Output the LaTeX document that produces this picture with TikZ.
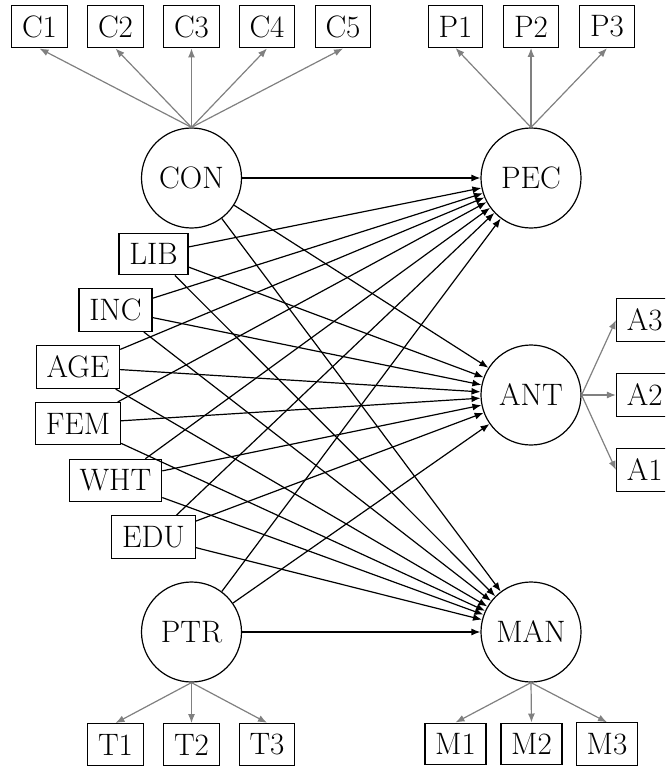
\documentclass[tikz,border=0pt]{standalone}
\usepackage{fontspec}
\usetikzlibrary{arrows.meta}
\tikzset{
  every node/.style={font=\fontsize{31}{36}\selectfont},
  obs/.style={draw, rectangle, line width=1.2pt, inner sep=10.3pt},
  lat/.style={draw, circle, line width=1.2pt, minimum size=100pt, inner sep=0pt},
  path/.style={line width=1.2pt, -{Latex[length=9pt,width=7pt]}},
  meas/.style={line width=1.2pt, gray, -{Latex[length=9pt,width=7pt]}}
}
\begin{document}
\begin{tikzpicture}[x=1pt,y=-1pt]
\useasboundingbox (0,0) rectangle (665,768);
\clip (0,0) rectangle (665,768);
% latent variables
\node[lat] (CON) at (191.5,178) {CON};
\node[lat] (PEC) at (531,178) {PEC};
\node[lat] (ANT) at (531,395) {ANT};
\node[lat] (MAN) at (531,632) {MAN};
\node[lat] (PTR) at (191.5,632) {PTR};
% indicators
\node[obs] (C1) at (39.5,26.5) {C1};
\node[obs] (C2) at (115.5,26.5) {C2};
\node[obs] (C3) at (191.5,26.5) {C3};
\node[obs] (C4) at (267,26.5) {C4};
\node[obs] (C5) at (343,26.5) {C5};
\node[obs] (P1) at (455.5,26.5) {P1};
\node[obs] (P2) at (531,26.5) {P2};
\node[obs] (P3) at (607,26.5) {P3};
\node[obs] (A3) at (644.7,320) {A3};
\node[obs] (A2) at (644.7,395) {A2};
\node[obs] (A1) at (644.7,470) {A1};
\node[obs] (T1) at (115.5,744.5) {T1};
\node[obs] (T2) at (191.5,744.5) {T2};
\node[obs] (T3) at (267,744.5) {T3};
\node[obs] (M1) at (455.5,744) {M1};
\node[obs] (M2) at (531.5,744) {M2};
\node[obs] (M3) at (607,744) {M3};
% exogenous
\node[obs] (LIB) at (153.5,254) {LIB};
\node[obs] (INC) at (115.5,310) {INC};
\node[obs] (AGE) at (78,367) {AGE};
\node[obs] (FEM) at (78,423.5) {FEM};
\node[obs] (WHT) at (115.5,480.5) {WHT};
\node[obs] (EDU) at (153.5,537) {EDU};
% measurement arrows
\foreach \i in {C1,C2,C3,C4,C5} \draw[meas] (CON.north) -- (\i.south);
\foreach \i in {P1,P2,P3} \draw[meas] (PEC.north) -- (\i.south);
\foreach \i in {A1,A2,A3} \draw[meas] (ANT.east) -- (\i.west);
\foreach \i in {T1,T2,T3} \draw[meas] (PTR.south) -- (\i.north);
\foreach \i in {M1,M2,M3} \draw[meas] (MAN.south) -- (\i.north);
% structural paths
\foreach \s in {CON,LIB,INC,AGE,FEM,WHT,EDU,PTR}
  \foreach \t in {PEC,ANT,MAN}
    \draw[path] (\s) -- (\t);
\end{tikzpicture}
\end{document}
